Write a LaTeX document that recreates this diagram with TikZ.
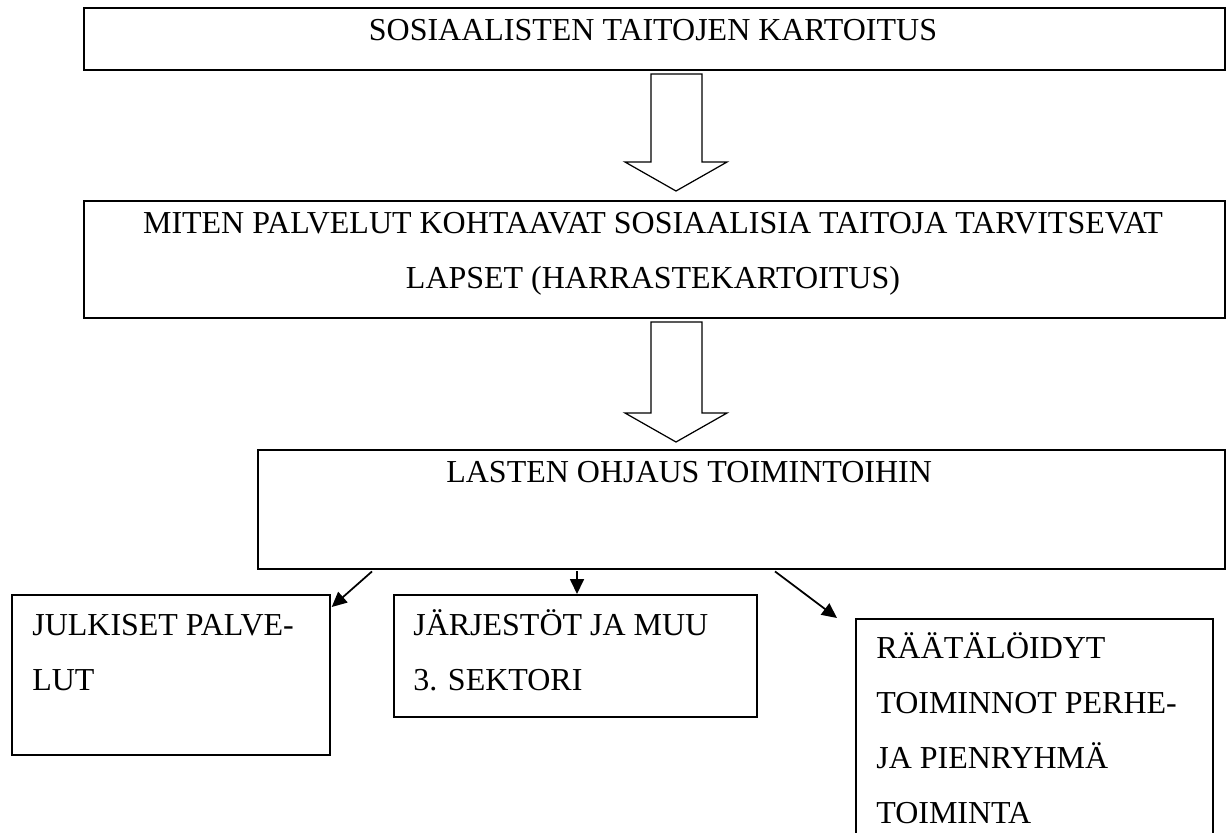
\documentclass[tikz,border=0pt]{standalone}
\usepackage{fontspec}
\setmainfont{Liberation Serif}
\usetikzlibrary{arrows.meta,calc}

\begin{document}
\begin{tikzpicture}[x=0.02cm,y=-0.02cm,
		bigbox/.style={draw,line width=1.4pt,inner sep=0pt,anchor=north west},
		smallbox/.style={draw,line width=1pt,inner sep=0pt,anchor=north west},
		txt/.style={anchor=base,inner sep=0pt,font=\fontsize{18.2}{31.3}\selectfont},
		lefttxt/.style={txt,anchor=base west,align=left},
		blockarrow/.style={draw,line width=0.7pt,fill=white},
		arr/.style={-{Triangle[length=0.3cm,width=0.28cm]},line width=1pt}]
		\clip (0,0) rectangle (1226,832);
		% boxes
		\node[bigbox,minimum width=22.82cm,minimum height=1.24cm] (kartoitus) at (83,7) {};
		\node[bigbox,minimum width=22.82cm,minimum height=2.34cm] (palvelut) at (83,200) {};
		\node[bigbox,minimum width=19.34cm,minimum height=2.38cm] (ohjaus) at (257,449) {};
		\node[smallbox,minimum width=6.36cm,minimum height=3.2cm] (julkiset) at (11,594) {};
		\node[smallbox,minimum width=7.26cm,minimum height=2.44cm] (jarjestot) at (393,594) {};
		\node[smallbox,minimum width=7.14cm,minimum height=4.9cm] (raataloidyt) at (855,618) {};
		% texts (multi-line ones sit on the baseline of their last line)
		\node[txt] (kartoitus-txt) at (653,40.7) {SOSIAALISTEN TAITOJEN KARTOITUS};
		\node[txt,align=center] (palvelut-txt) at (653,288) {MITEN PALVELUT KOHTAAVAT SOSIAALISIA TAITOJA TARVITSEVAT\\LAPSET (HARRASTEKARTOITUS)};
		\node[txt,anchor=base west] (ohjaus-txt) at (446,482) {LASTEN OHJAUS TOIMINTOIHIN};
		\node[lefttxt] (julkiset-txt) at (32,690) {JULKISET PALVE-\\LUT};
		\node[lefttxt] (jarjestot-txt) at (413,690) {JÄRJESTÖT JA MUU\\3. SEKTORI};
		\node[lefttxt] (raataloidyt-txt) at (876,823) {RÄÄTÄLÖIDYT\\TOIMINNOT PERHE-\\JA PIENRYHMÄ\\TOIMINTA};
		% block arrows
		\foreach \top/\neck/\tip in {74/162/191,322/413/442}{
			\draw[blockarrow] (651,\top) -- (702,\top) -- (702,\neck) -- (727,\neck) -- (676,\tip) -- (625,\neck) -- (651,\neck) -- cycle;
		}
		% small arrows
		\draw[arr] ($(ohjaus.south west)+(115,1)$) -- ($(julkiset.north east)+(1,13)$);
		\draw[arr] ($(ohjaus.south west)+(320,1)$) -- ($(jarjestot.north west)+(184,0)$);
		\draw[arr] ($(ohjaus.south west)+(518,1)$) -- ($(raataloidyt.north west)+(-18,0)$);
	\end{tikzpicture}
\end{document}
